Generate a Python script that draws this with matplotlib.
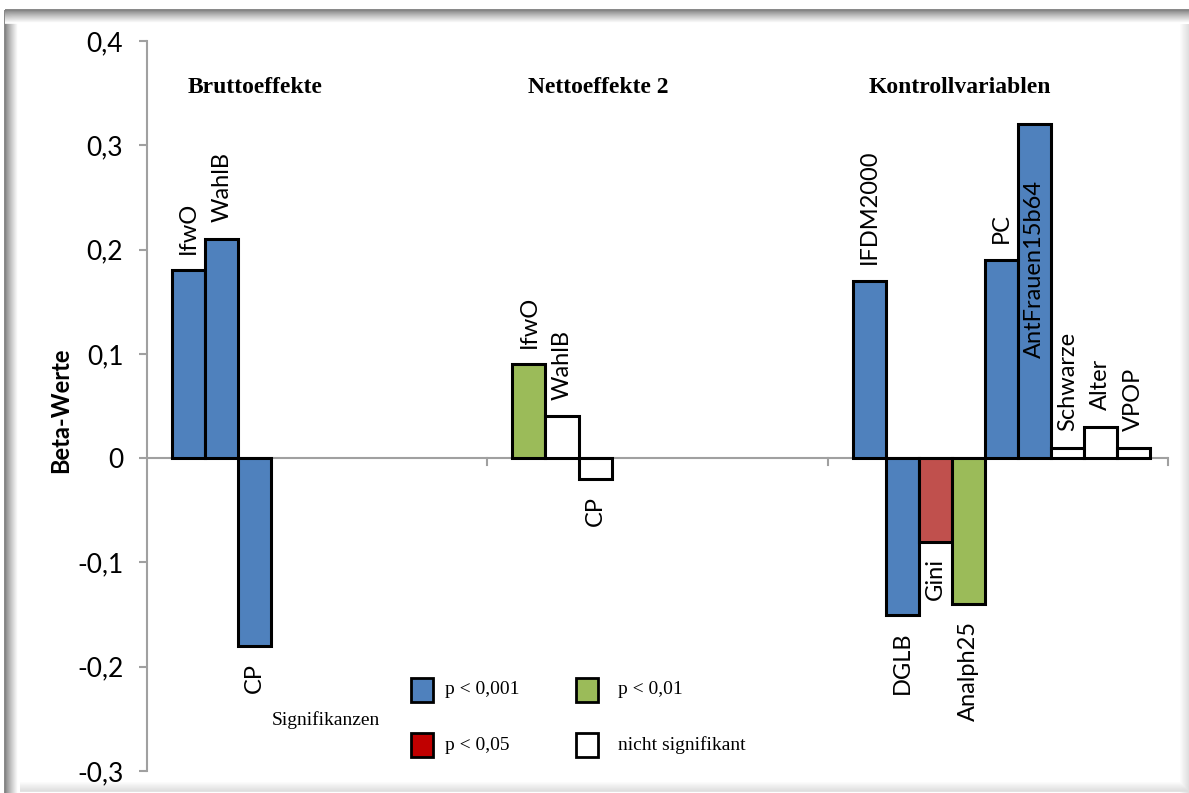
import numpy as np
import matplotlib.pyplot as plt
from matplotlib.patches import Rectangle

# Beta-Werte je Gruppe
groups = ['Bruttoeffekte', 'Nettoeffekte 2', 'Kontrollvariablen']
brutto_names = ['IfwO', 'WahlB', 'CP']
brutto_vals = [0.18, 0.21, -0.18]
brutto_sig = ['p001', 'p001', 'p001']
netto_names = ['IfwO', 'WahlB', 'CP']
netto_vals = [0.09, 0.04, -0.02]
netto_sig = ['p01', 'ns', 'ns']
kontroll_names = ['IFDM2000', 'DGLB', 'Gini', 'Analph25', 'PC', 'AntFrauen15b64',
                  'Schwarze', 'Alter', 'VPOP']
kontroll_vals = [0.17, -0.15, -0.08, -0.14, 0.19, 0.32, 0.01, 0.03, 0.01]
kontroll_sig = ['p001', 'p001', 'p05', 'p01', 'p001', 'p001', 'ns', 'ns', 'ns']

sig_colors = {'p001': '#4F81BD', 'p01': '#9BBB59', 'p05': '#C0504D', 'ns': 'white'}

plt.rcParams['font.family'] = ['Lato', 'DejaVu Sans']

fig = plt.figure(figsize=(11.89, 7.93), dpi=100)

# Rahmen mit Schatten
bg = fig.add_axes([0, 0, 1, 1], zorder=-5)
bg.set_xlim(0, 1189)
bg.set_ylim(793, 0)
bg.axis('off')
for i in range(14):
    g = 0.45 + 0.55 * (i / 13) ** 0.8
    bg.plot([5, 1189], [10 + i, 10 + i], color=(g, g, g), lw=1.2, solid_capstyle='butt')
    bg.plot([5 + i, 5 + i], [10 + i, 793], color=(g, g, g), lw=1.2, solid_capstyle='butt')
for i in range(10):
    g = 1.0 - 0.13 * (i / 9)
    bg.plot([20, 1189], [782 + i, 782 + i], color=(g, g, g), lw=1.2, solid_capstyle='butt')
    bg.plot([1180 + i, 1180 + i], [24, 793], color=(g, g, g), lw=1.2, solid_capstyle='butt')

ax = fig.add_axes([0.1236, 0.0277, 0.8587, 0.9206])
ax.set_xlim(0, 3)
ax.set_ylim(-0.3, 0.4)

width = 0.097
start = 0.074

all_names = [brutto_names, netto_names, kontroll_names]
all_vals = [brutto_vals, netto_vals, kontroll_vals]
all_sig = [brutto_sig, netto_sig, kontroll_sig]

for g, (names, vals, sig) in enumerate(zip(all_names, all_vals, all_sig)):
    x = g + start + width / 2 + np.arange(len(vals)) * width
    ax.bar(x, vals, width=width, color=[sig_colors[s] for s in sig],
           edgecolor='black', linewidth=2.2, zorder=3)
    for xi, v, n in zip(x, vals, names):
        anchor = v
        if n == 'AntFrauen15b64':
            anchor = 0.08
        ax.annotate(n, (xi, anchor), xytext=(0, 12 if v > 0 else -12),
                    textcoords='offset points', rotation=90, ha='center',
                    va='bottom' if v > 0 else 'top', fontsize=17, zorder=4)
    ax.text(g + start + 0.045, 0.355, groups[g], fontsize=17, fontweight='bold',
            family='Liberation Serif', ha='left', va='center')

# Nulllinie mit Kategorie-Teilstrichen
ax.axhline(0, color='#A0A0A0', lw=1.5, zorder=2)
for xt in [1, 2, 3]:
    ax.plot([xt, xt], [0, -0.007], color='#A0A0A0', lw=1.5, clip_on=False, zorder=2)

for s in ['top', 'right', 'bottom']:
    ax.spines[s].set_visible(False)
ax.spines['left'].set_color('#A0A0A0')
ax.spines['left'].set_linewidth(1.5)
ax.set_xticks([])
ax.set_yticks(np.arange(-0.3, 0.41, 0.1))
ax.set_yticklabels(['-0,3', '-0,2', '-0,1', '0', '0,1', '0,2', '0,3', '0,4'], fontsize=19)
ax.tick_params(axis='y', length=6, width=1.5, color='#A0A0A0', pad=11)
ax.patch.set_alpha(0)

fig.text(0.051, 0.483, 'Beta-Werte', rotation=90, fontsize=17, fontweight='bold',
         ha='center', va='center')

# Legende der Signifikanzniveaus
legend_items = [('p001', 'p < 0,001', 422, 690), ('p01', 'p < 0,01', 587, 690),
                ('red', 'p < 0,05', 422, 745), ('ns', 'nicht signifikant', 587, 745)]
leg_colors = dict(sig_colors, red='#C00000')
for key, txt, px, py in legend_items:
    bg.add_patch(Rectangle((px - 11, py - 12), 22, 24, facecolor=leg_colors[key],
                           edgecolor='black', lw=2, zorder=5))
    bg.text(px + 23 + (8 if key == 'ns' else 0) + (8 if key == 'p01' else 0), py,
            txt, fontsize=14, family='Liberation Serif', va='center', ha='left', zorder=5)
bg.text(272, 720, 'Signifikanzen', fontsize=14, family='Liberation Serif',
        va='center', ha='left', zorder=5)

fig.savefig('out.png', dpi=100)
